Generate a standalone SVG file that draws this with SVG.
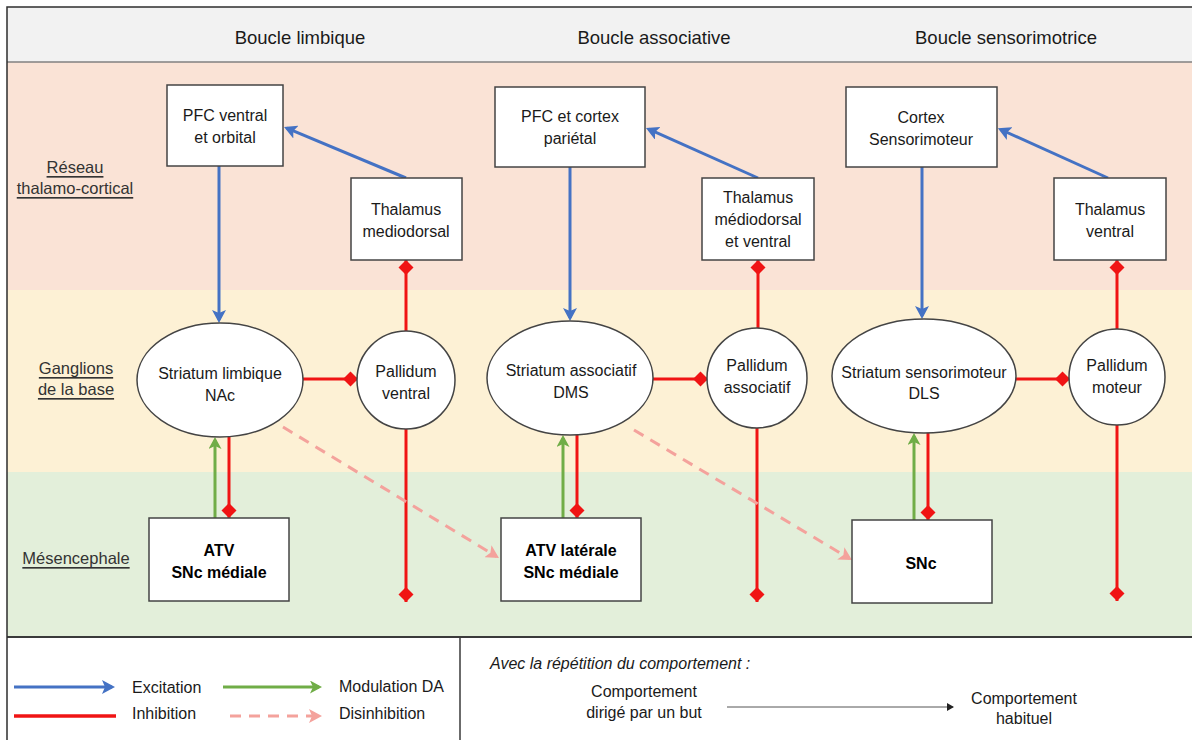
<svg xmlns="http://www.w3.org/2000/svg" width="1192" height="740" viewBox="0 0 1192 740">
<defs>
<style>
text{font-family:"Liberation Sans",Arial,sans-serif;fill:#1a1a1a;dominant-baseline:central}
.hd{font-size:18.5px;text-anchor:middle}
.lb{font-size:16.5px;text-anchor:middle;text-decoration:underline;fill:#333}
.nt{font-size:16px;text-anchor:middle}
.bt{font-size:16px;text-anchor:middle;font-weight:bold;fill:#000}
.lg{font-size:16px}
.box{fill:#fff;stroke:#444;stroke-width:1.5}
.exc{stroke:#4472c4;stroke-width:3;fill:none}
.inh{stroke:#f01414;stroke-width:3;fill:none}
.mod{stroke:#70ad47;stroke-width:3;fill:none}
.dis{stroke:#f4a29c;stroke-width:3;fill:none;stroke-dasharray:11 8}
</style>
<marker id="mBlue" markerUnits="userSpaceOnUse" markerWidth="14" markerHeight="14" viewBox="0 0 14 14" refX="10" refY="7" orient="auto"><path d="M0,0 L13,7 L0,14 L3,7 Z" fill="#4472c4"/></marker>
<marker id="mGreen" markerUnits="userSpaceOnUse" markerWidth="13" markerHeight="13" viewBox="0 0 13 13" refX="9" refY="6.5" orient="auto"><path d="M0,0 L12,6.5 L0,13 L3,6.5 Z" fill="#70ad47"/></marker>
<marker id="mPink" markerUnits="userSpaceOnUse" markerWidth="14" markerHeight="14" viewBox="0 0 14 14" refX="10" refY="7" orient="auto"><path d="M0,0 L13,7 L0,14 L3,7 Z" fill="#f4a29c"/></marker>
<marker id="mDia" markerUnits="userSpaceOnUse" markerWidth="16" markerHeight="16" viewBox="0 0 16 16" refX="15" refY="8" orient="auto"><path d="M0,8 L7.5,0.5 L15,8 L7.5,15.5 Z" fill="#f01414"/></marker>
<marker id="mBlack" markerUnits="userSpaceOnUse" markerWidth="8" markerHeight="8" viewBox="0 0 8 8" refX="6" refY="4" orient="auto"><path d="M0,0 L7,4 L0,8 Z" fill="#222"/></marker>
</defs>

<g id="bands">
<rect x="7" y="7" width="1195" height="55" fill="#f2f2f2"/>
<rect x="7" y="62" width="1195" height="228" fill="#fae3d6"/>
<rect x="7" y="290" width="1195" height="182" fill="#fdf1d5"/>
<rect x="7" y="472" width="1195" height="165" fill="#e3efda"/>
<rect x="7" y="637" width="1195" height="110" fill="#fff"/>
<line x1="7" y1="62" x2="1192" y2="62" stroke="#808080" stroke-width="1.5"/>
<line x1="7" y1="637" x2="1192" y2="637" stroke="#3a3a3a" stroke-width="2"/>
<rect x="7" y="7" width="1195" height="740" fill="none" stroke="#2e2e2e" stroke-width="1.5"/>
<line x1="460" y1="637" x2="460" y2="740" stroke="#3a3a3a" stroke-width="1.5"/>
</g>

<g id="headers">
<text class="hd" x="300" y="37">Boucle limbique</text>
<text class="hd" x="654" y="37">Boucle associative</text>
<text class="hd" x="1006" y="37">Boucle sensorimotrice</text>
</g>

<g id="row-labels">
<text class="lb" x="75" y="167">Réseau</text>
<text class="lb" x="75" y="188">thalamo-cortical</text>
<text class="lb" x="76" y="368">Ganglions</text>
<text class="lb" x="76" y="389">de la base</text>
<text class="lb" x="76" y="558">Mésencephale</text>
</g>

<g id="connectors">
<!-- excitation -->
<line class="exc" x1="406" y1="178" x2="286.8" y2="128.2" marker-end="url(#mBlue)"/>
<line class="exc" x1="758" y1="178" x2="648.7" y2="129.2" marker-end="url(#mBlue)"/>
<line class="exc" x1="1108" y1="178" x2="1000.6" y2="129.5" marker-end="url(#mBlue)"/>
<line class="exc" x1="219" y1="166" x2="219" y2="320" marker-end="url(#mBlue)"/>
<line class="exc" x1="570" y1="167" x2="570" y2="318" marker-end="url(#mBlue)"/>
<line class="exc" x1="922" y1="167" x2="922" y2="316" marker-end="url(#mBlue)"/>
<!-- inhibition pallidum -> thalamus -->
<line class="inh" x1="406" y1="331" x2="406" y2="260" marker-end="url(#mDia)"/>
<line class="inh" x1="758" y1="328" x2="758" y2="260" marker-end="url(#mDia)"/>
<line class="inh" x1="1117" y1="329" x2="1117" y2="260" marker-end="url(#mDia)"/>
<!-- inhibition pallidum downward -->
<line class="inh" x1="406" y1="429" x2="406" y2="602" marker-end="url(#mDia)"/>
<line class="inh" x1="757" y1="428" x2="757" y2="602" marker-end="url(#mDia)"/>
<line class="inh" x1="1117" y1="425" x2="1117" y2="601" marker-end="url(#mDia)"/>
<!-- inhibition striatum -> pallidum -->
<line class="inh" x1="303" y1="379" x2="358" y2="379" marker-end="url(#mDia)"/>
<line class="inh" x1="653" y1="379" x2="708" y2="379" marker-end="url(#mDia)"/>
<line class="inh" x1="1016" y1="379" x2="1070" y2="379" marker-end="url(#mDia)"/>
<!-- inhibition striatum -> mesencephale -->
<line class="inh" x1="229" y1="436" x2="229" y2="518" marker-end="url(#mDia)"/>
<line class="inh" x1="577" y1="434" x2="577" y2="518" marker-end="url(#mDia)"/>
<line class="inh" x1="928" y1="432" x2="928" y2="520" marker-end="url(#mDia)"/>
<!-- DA modulation -->
<line class="mod" x1="215" y1="518" x2="215" y2="440" marker-end="url(#mGreen)"/>
<line class="mod" x1="563" y1="518" x2="563" y2="438" marker-end="url(#mGreen)"/>
<line class="mod" x1="914" y1="520" x2="914" y2="436" marker-end="url(#mGreen)"/>
<!-- disinhibition -->
<line class="dis" x1="283" y1="427" x2="496.4" y2="556.4" marker-end="url(#mPink)"/>
<line class="dis" x1="634" y1="430" x2="849.4" y2="558.5" marker-end="url(#mPink)"/>
</g>

<g id="pfc-ventral"><rect class="box" x="167" y="85" width="116" height="81"/><text class="nt" x="225" y="115">PFC ventral</text><text class="nt" x="225" y="137">et orbital</text></g>
<g id="thalamus-md"><rect class="box" x="351" y="178" width="111" height="82"/><text class="nt" x="406" y="209">Thalamus</text><text class="nt" x="406" y="231">mediodorsal</text></g>
<g id="pfc-parietal"><rect class="box" x="495" y="87" width="150" height="80"/><text class="nt" x="570" y="116">PFC et cortex</text><text class="nt" x="570" y="138">pariétal</text></g>
<g id="thalamus-mdv"><rect class="box" x="702" y="178" width="112" height="82"/><text class="nt" x="758" y="197">Thalamus</text><text class="nt" x="758" y="219">médiodorsal</text><text class="nt" x="758" y="241">et ventral</text></g>
<g id="cortex-sm"><rect class="box" x="846" y="87" width="151" height="80"/><text class="nt" x="921" y="117">Cortex</text><text class="nt" x="921" y="139">Sensorimoteur</text></g>
<g id="thalamus-v"><rect class="box" x="1054" y="178" width="112" height="82"/><text class="nt" x="1110" y="209">Thalamus</text><text class="nt" x="1110" y="231">ventral</text></g>

<g id="striatum-limbique"><ellipse class="box" cx="220" cy="380" rx="83" ry="57"/><text class="nt" x="220" y="373">Striatum limbique</text><text class="nt" x="220" y="395">NAc</text></g>
<g id="pallidum-ventral"><circle class="box" cx="406" cy="380" r="49"/><text class="nt" x="406" y="371">Pallidum</text><text class="nt" x="406" y="393">ventral</text></g>
<g id="striatum-associatif"><ellipse class="box" cx="570" cy="378" rx="83" ry="57"/><text class="nt" x="571" y="370">Striatum associatif</text><text class="nt" x="571" y="392">DMS</text></g>
<g id="pallidum-associatif"><circle class="box" cx="757" cy="378" r="50"/><text class="nt" x="757" y="365">Pallidum</text><text class="nt" x="757" y="387">associatif</text></g>
<g id="striatum-sensorimoteur"><ellipse class="box" cx="924" cy="376" rx="92" ry="57"/><text class="nt" x="924" y="372">Striatum sensorimoteur</text><text class="nt" x="924" y="393">DLS</text></g>
<g id="pallidum-moteur"><circle class="box" cx="1117" cy="377" r="48"/><text class="nt" x="1117" y="365">Pallidum</text><text class="nt" x="1117" y="387">moteur</text></g>

<g id="atv-snc-mediale"><rect class="box" x="149" y="518" width="140" height="83"/><text class="bt" x="219" y="550">ATV</text><text class="bt" x="219" y="572">SNc médiale</text></g>
<g id="atv-laterale"><rect class="box" x="501" y="518" width="140" height="83"/><text class="bt" x="571" y="550">ATV latérale</text><text class="bt" x="571" y="572">SNc médiale</text></g>
<g id="snc"><rect class="box" x="852" y="520" width="140" height="83"/><text class="bt" x="921" y="563">SNc</text></g>

<g id="legend">
<line class="exc" x1="14" y1="687" x2="112" y2="687" marker-end="url(#mBlue)"/>
<text class="lg" x="132" y="687">Excitation</text>
<line x1="14" y1="716" x2="116" y2="716" stroke="#f01414" stroke-width="3.5"/>
<text class="lg" x="132" y="713">Inhibition</text>
<line class="mod" x1="223" y1="687" x2="319" y2="687" marker-end="url(#mGreen)"/>
<text class="lg" x="339" y="686">Modulation DA</text>
<line class="dis" x1="230" y1="716" x2="319" y2="716" marker-end="url(#mPink)"/>
<text class="lg" x="339" y="713">Disinhibition</text>
</g>

<g id="legend-behaviour">
<text class="lg" x="490" y="663" font-style="italic" font-size="16.5">Avec la répétition du comportement :</text>
<text class="nt" x="644" y="691">Comportement</text>
<text class="nt" x="644" y="712">dirigé par un but</text>
<line x1="727" y1="707" x2="953" y2="707" stroke="#555" stroke-width="1" marker-end="url(#mBlack)"/>
<text class="nt" x="1024" y="698">Comportement</text>
<text class="nt" x="1024" y="718">habituel</text>
</g>
</svg>
